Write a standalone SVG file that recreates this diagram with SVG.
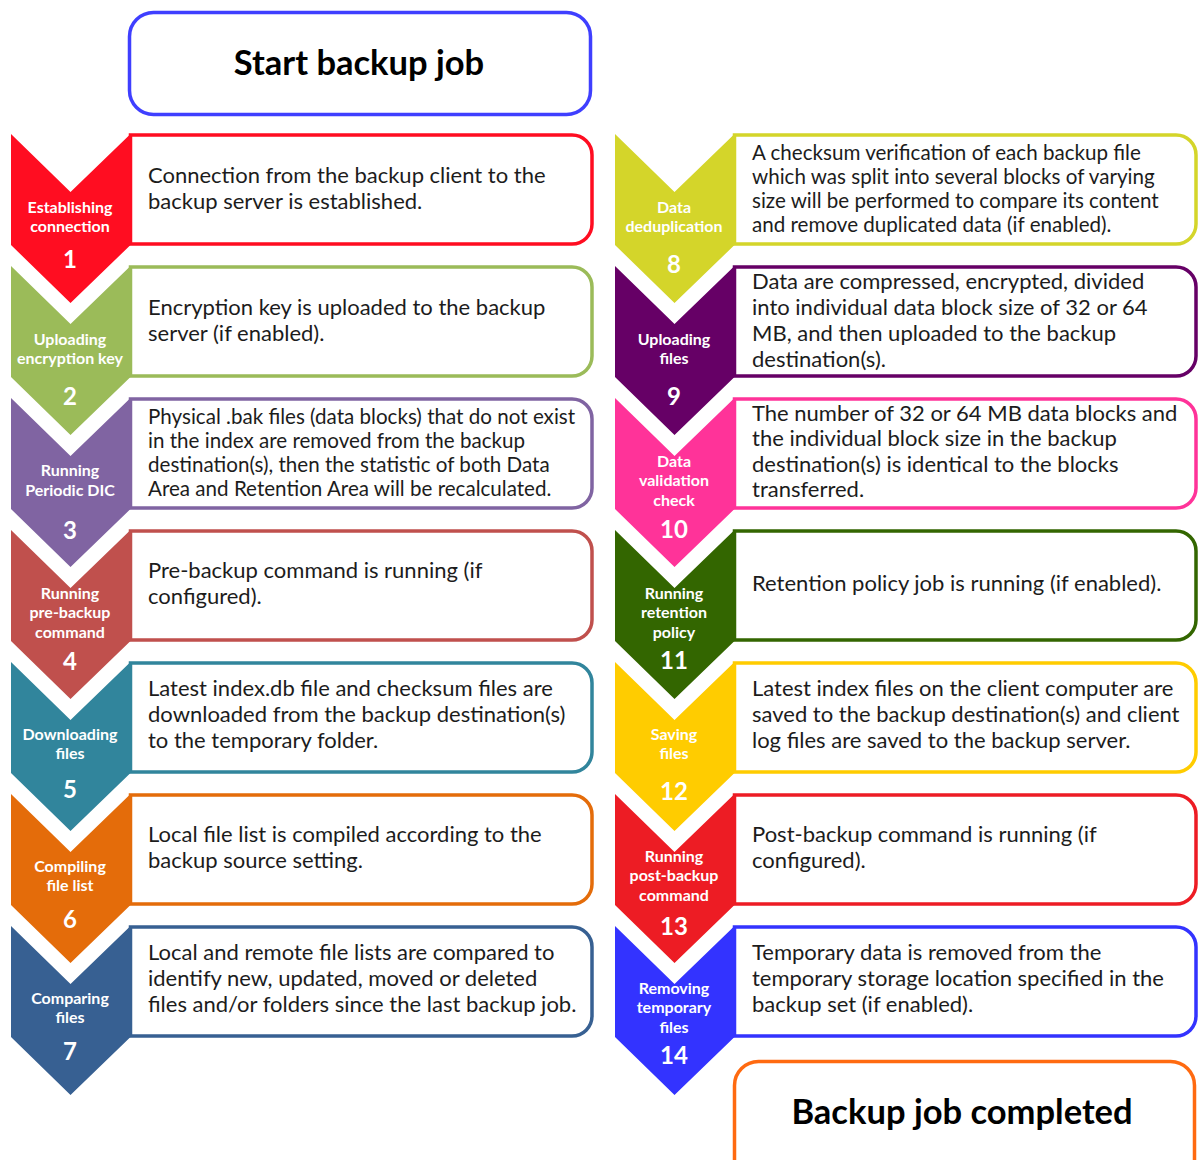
<svg xmlns="http://www.w3.org/2000/svg" width="1198" height="1160" viewBox="0 0 1198 1160">
<defs>
<style>
.body{font-family:Lato,"Liberation Sans",sans-serif;font-size:22px;fill:#1c1c1c}
.body.s{font-size:20.6px}
.lab{font-family:Lato,"Liberation Sans",sans-serif;font-size:16px;font-weight:bold;fill:#ffffff;text-anchor:middle}
.num{font-family:Lato,"Liberation Sans",sans-serif;font-size:24px;font-weight:bold;fill:#ffffff;text-anchor:middle}
.ttl{font-family:Lato,"Liberation Sans",sans-serif;font-size:34.5px;font-weight:bold;fill:#000000;text-anchor:middle}
.box{fill:#ffffff;stroke-width:3.5}
</style>
<path id="chev" d="M0,0 L59.5,58 L119.5,0 L119.5,111 L59.5,169 L0,111 Z"/>
<path id="card" d="M119.5,1 H561 A20,20 0 0 1 581,21 V90 A20,20 0 0 1 561,110 H119.5 Z"/>
</defs>
<rect width="1198" height="1160" fill="#ffffff"/>

<g id="start">
<rect x="129.5" y="12.5" width="461" height="102" rx="24" fill="#ffffff" stroke="#3f3fff" stroke-width="3.5"/>
<text class="ttl" x="359" y="75">Start backup job</text>
</g>

<g id="end">
<rect x="734.5" y="1061.5" width="460" height="140" rx="24" fill="#ffffff" stroke="#ff6a10" stroke-width="3.5"/>
<text class="ttl" x="962" y="1124">Backup job completed</text>
</g>

<g id="step1" transform="translate(11,134)">
<use href="#card" class="box" stroke="#ff0d21"/>
<use href="#chev" fill="#ff0d21"/>
<text class="lab" x="59" y="79">Establishing</text>
<text class="lab" x="59" y="98">connection</text>
<text class="num" x="59" y="134">1</text>
<text class="body" x="137" y="49">Connection from the backup client to the</text>
<text class="body" x="137" y="75">backup server is established.</text>
</g>

<g id="step2" transform="translate(11,266)">
<use href="#card" class="box" stroke="#9bbb59"/>
<use href="#chev" fill="#9bbb59"/>
<text class="lab" x="59" y="79">Uploading</text>
<text class="lab" x="59" y="98">encryption key</text>
<text class="num" x="59" y="139">2</text>
<text class="body" x="137" y="49">Encryption key is uploaded to the backup</text>
<text class="body" x="137" y="75">server (if enabled).</text>
</g>

<g id="step3" transform="translate(11,398)">
<use href="#card" class="box" stroke="#8064a2"/>
<use href="#chev" fill="#8064a2"/>
<text class="lab" x="59" y="78">Running</text>
<text class="lab" x="59" y="98">Periodic DIC</text>
<text class="num" x="59" y="141">3</text>
<text class="body s" x="137" y="26">Physical .bak files (data blocks) that do not exist</text>
<text class="body s" x="137" y="50">in the index are removed from the backup</text>
<text class="body s" x="137" y="74">destination(s), then the statistic of both Data</text>
<text class="body s" x="137" y="98">Area and Retention Area will be recalculated.</text>
</g>

<g id="step4" transform="translate(11,530)">
<use href="#card" class="box" stroke="#c0504d"/>
<use href="#chev" fill="#c0504d"/>
<text class="lab" x="59" y="69">Running</text>
<text class="lab" x="59" y="88">pre-backup</text>
<text class="lab" x="59" y="108">command</text>
<text class="num" x="59" y="140">4</text>
<text class="body" x="137" y="48">Pre-backup command is running (if</text>
<text class="body" x="137" y="74">configured).</text>
</g>

<g id="step5" transform="translate(11,662)">
<use href="#card" class="box" stroke="#31859c"/>
<use href="#chev" fill="#31859c"/>
<text class="lab" x="59" y="78">Downloading</text>
<text class="lab" x="59" y="97">files</text>
<text class="num" x="59" y="136">5</text>
<text class="body" x="137" y="34">Latest index.db file and checksum files are</text>
<text class="body" x="137" y="60">downloaded from the backup destination(s)</text>
<text class="body" x="137" y="86">to the temporary folder.</text>
</g>

<g id="step6" transform="translate(11,794)">
<use href="#card" class="box" stroke="#e46c0a"/>
<use href="#chev" fill="#e46c0a"/>
<text class="lab" x="59" y="78">Compiling</text>
<text class="lab" x="59" y="97">file list</text>
<text class="num" x="59" y="134">6</text>
<text class="body" x="137" y="48">Local file list is compiled according to the</text>
<text class="body" x="137" y="74">backup source setting.</text>
</g>

<g id="step7" transform="translate(11,926)">
<use href="#card" class="box" stroke="#376092"/>
<use href="#chev" fill="#376092"/>
<text class="lab" x="59" y="78">Comparing</text>
<text class="lab" x="59" y="97">files</text>
<text class="num" x="59" y="134">7</text>
<text class="body" x="137" y="34">Local and remote file lists are compared to</text>
<text class="body" x="137" y="60">identify new, updated, moved or deleted</text>
<text class="body" x="137" y="86">files and/or folders since the last backup job.</text>
</g>

<g id="step8" transform="translate(615,134)">
<use href="#card" class="box" stroke="#d4d52a"/>
<use href="#chev" fill="#d4d52a"/>
<text class="lab" x="59" y="79">Data</text>
<text class="lab" x="59" y="98">deduplication</text>
<text class="num" x="59" y="139">8</text>
<text class="body s" x="137" y="26">A checksum verification of each backup file</text>
<text class="body s" x="137" y="50">which was split into several blocks of varying</text>
<text class="body s" x="137" y="74">size will be performed to compare its content</text>
<text class="body s" x="137" y="98">and remove duplicated data (if enabled).</text>
</g>

<g id="step9" transform="translate(615,266)">
<use href="#card" class="box" stroke="#660066"/>
<use href="#chev" fill="#660066"/>
<text class="lab" x="59" y="79">Uploading</text>
<text class="lab" x="59" y="98">files</text>
<text class="num" x="59" y="139">9</text>
<text class="body" x="137" y="23">Data are compressed, encrypted, divided</text>
<text class="body" x="137" y="49">into individual data block size of 32 or 64</text>
<text class="body" x="137" y="75">MB, and then uploaded to the backup</text>
<text class="body" x="137" y="101">destination(s).</text>
</g>

<g id="step10" transform="translate(615,398)">
<use href="#card" class="box" stroke="#ff3399"/>
<use href="#chev" fill="#ff3399"/>
<text class="lab" x="59" y="69">Data</text>
<text class="lab" x="59" y="88">validation</text>
<text class="lab" x="59" y="108">check</text>
<text class="num" x="59" y="140">10</text>
<text class="body" x="137" y="23">The number of 32 or 64 MB data blocks and</text>
<text class="body" x="137" y="48">the individual block size in the backup</text>
<text class="body" x="137" y="74">destination(s) is identical to the blocks</text>
<text class="body" x="137" y="99">transferred.</text>
</g>

<g id="step11" transform="translate(615,530)">
<use href="#card" class="box" stroke="#336600"/>
<use href="#chev" fill="#336600"/>
<text class="lab" x="59" y="69">Running</text>
<text class="lab" x="59" y="88">retention</text>
<text class="lab" x="59" y="108">policy</text>
<text class="num" x="59" y="139">11</text>
<text class="body" x="137" y="61">Retention policy job is running (if enabled).</text>
</g>

<g id="step12" transform="translate(615,662)">
<use href="#card" class="box" stroke="#ffcc00"/>
<use href="#chev" fill="#ffcc00"/>
<text class="lab" x="59" y="78">Saving</text>
<text class="lab" x="59" y="97">files</text>
<text class="num" x="59" y="138">12</text>
<text class="body" x="137" y="34">Latest index files on the client computer are</text>
<text class="body" x="137" y="60">saved to the backup destination(s) and client</text>
<text class="body" x="137" y="86">log files are saved to the backup server.</text>
</g>

<g id="step13" transform="translate(615,794)">
<use href="#card" class="box" stroke="#ed1c24"/>
<use href="#chev" fill="#ed1c24"/>
<text class="lab" x="59" y="68">Running</text>
<text class="lab" x="59" y="87">post-backup</text>
<text class="lab" x="59" y="107">command</text>
<text class="num" x="59" y="141">13</text>
<text class="body" x="137" y="48">Post-backup command is running (if</text>
<text class="body" x="137" y="74">configured).</text>
</g>

<g id="step14" transform="translate(615,926)">
<use href="#card" class="box" stroke="#3333ff"/>
<use href="#chev" fill="#3333ff"/>
<text class="lab" x="59" y="68">Removing</text>
<text class="lab" x="59" y="87">temporary</text>
<text class="lab" x="59" y="107">files</text>
<text class="num" x="59" y="138">14</text>
<text class="body" x="137" y="34">Temporary data is removed from the</text>
<text class="body" x="137" y="60">temporary storage location specified in the</text>
<text class="body" x="137" y="86">backup set (if enabled).</text>
</g>

<g id="connectors"></g>
</svg>
